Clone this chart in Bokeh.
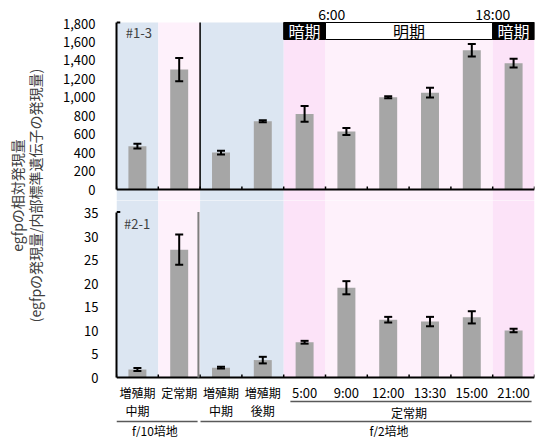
import math
from bokeh.plotting import figure
from bokeh.models import ColumnDataSource, Whisker, TeeHead, FixedTicker, NumeralTickFormatter
from bokeh.layouts import row, column
from bokeh.core.properties import value
from bokeh.embed import file_html
from bokeh.resources import INLINE

# ---------------- data ----------------
categories = ["増殖期\n中期", "定常期", "増殖期\n中期", "増殖期\n後期",
              "5:00", "9:00", "12:00", "13:30", "15:00", "21:00"]
top_values = [470, 1300, 400, 740, 820, 630, 1000, 1050, 1510, 1370]
top_errors = [25, 125, 20, 10, 85, 38, 10, 52, 67, 47]
bottom_values = [1.7, 27.2, 2.1, 3.7, 7.5, 19.1, 12.3, 11.9, 12.8, 10.0]
bottom_errors = [0.3, 3.2, 0.2, 0.7, 0.3, 1.4, 0.6, 1.0, 1.3, 0.35]
top_ticks = [0, 200, 400, 600, 800, 1000, 1200, 1400, 1600, 1800]
bottom_ticks = [0, 5, 10, 15, 20, 25, 30, 35]
top_panel_label = "#1-3"
bottom_panel_label = "#2-1"
period_labels = ["暗期", "明期", "暗期"]
period_edges = [4, 5, 9, 10]
clock_labels = ["6:00", "18:00"]
group_label = "定常期"
medium_labels = ["f/10培地", "f/2培地"]
ytitle1 = "egfpの相対発現量"
ytitle2 = "(egfpの発現量/内部標準遺伝子の発現量)"

FONT = "Noto Sans CJK JP"
BAR = "#a6a6a6"
BLUE = "#dce6f2"
PINK_L = "#fef1fb"
PINK_D = "#fce3f8"

n = len(categories)
xc = [i + 0.5 for i in range(n)]
edges = list(range(n + 1))

# background regions (slot index ranges)
bg_left = [0, 1, 2, 4, 5, 9]
bg_right = [1, 2, 4, 5, 9, 10]
bg_colors = [BLUE, PINK_L, BLUE, PINK_D, PINK_L, PINK_D]

# pixel scales
TOP_PX = 1800 / 166.0   # data units per px (top)
BOT_PX = 35 / 164.5     # data units per px (bottom)

def base_fig(h, y0, y1):
    p = figure(width=484, height=h, x_range=(0, n), y_range=(y0, y1),
               output_backend="svg", toolbar_location=None,
               x_axis_location=None, min_border_left=64, min_border_right=2,
               min_border_top=0, min_border_bottom=0, outline_line_color=None)
    p.grid.grid_line_color = None
    p.background_fill_color = "white"
    p.border_fill_color = "white"
    return p

def style_yaxis(p, ticks, top, fmt, standoff):
    ax = p.yaxis[0]
    ax.ticker = FixedTicker(ticks=ticks)
    if fmt:
        ax.formatter = NumeralTickFormatter(format="0,0")
    ax.bounds = (0, top)
    ax.axis_line_width = 2
    ax.axis_line_color = "black"
    ax.major_tick_line_color = None
    ax.minor_tick_line_color = None
    ax.major_label_text_font = FONT
    ax.major_label_text_font_size = "13px"
    ax.major_label_text_color = "black"
    ax.major_label_standoff = standoff

def add_errors(p, vals, errs):
    src = ColumnDataSource(dict(x=xc, upper=[v + e for v, e in zip(vals, errs)],
                                lower=[v - e for v, e in zip(vals, errs)]))
    p.add_layout(Whisker(source=src, base="x", upper="upper", lower="lower",
                         level="annotation", line_width=2, line_color="black",
                         upper_head=TeeHead(size=8, line_width=2, line_color="black"),
                         lower_head=TeeHead(size=8, line_width=2, line_color="black")))

# ---------------- top panel (canvas rows 0..200, baseline at 189) ----------------
t_y0 = -11 * TOP_PX
t_y1 = 189 * TOP_PX
t_top = 1800 + 1.0 * TOP_PX
top = base_fig(200, t_y0, t_y1)
top.quad(left=bg_left, right=bg_right, bottom=t_y0 - 20 * TOP_PX, top=t_top,
         fill_color=bg_colors, line_color=None)
top.vbar(x=xc, top=top_values, width=0.43, fill_color=BAR, line_color=None)
add_errors(top, top_values, top_errors)
# baseline, boundary ticks, separator, top cap
top.segment(x0=[0], y0=[0], x1=[n], y1=[0], line_color="black", line_width=2)
top.segment(x0=edges, y0=[0] * len(edges), x1=edges, y1=[3 * TOP_PX] * len(edges),
            line_color="black", line_width=1.5)
top.segment(x0=[2], y0=[0], x1=[2], y1=[t_top], line_color="black", line_width=1.5)
top.segment(x0=[0], y0=[t_top], x1=[0.09], y1=[t_top], line_color="black", line_width=2)
# light/dark boxes
box_bottom = 1800 - 16 * TOP_PX
top.quad(left=period_edges[:-1], right=period_edges[1:], bottom=box_bottom, top=t_top,
         fill_color=["black", "white", "black"], line_color="black", line_width=1)
top.text(x=[(a + b) / 2 for a, b in zip(period_edges[:-1], period_edges[1:])],
         y=[(box_bottom + t_top) / 2] * 3, text=period_labels,
         text_color=["white", "black", "white"], text_font=value(FONT),
         text_font_size="16px", text_align="center", text_baseline="middle")
top.text(x=[period_edges[1] + 0.15, period_edges[2]], y=[1800 + 10 * TOP_PX] * 2,
         text=clock_labels, text_color="black", text_font=value(FONT),
         text_font_size="14px", text_align="center", text_baseline="middle")
top.text(x=[0.22], y=[1800 - 9 * TOP_PX], text=[top_panel_label], text_color="#404040",
         text_font=value(FONT), text_font_size="13px", text_align="left",
         text_baseline="middle")
style_yaxis(top, top_ticks, t_top, True, 15)

# ---------------- bottom panel (canvas rows 200..437, baseline at 377) ----------------
b_y0 = -60 * BOT_PX
b_y1 = 177 * BOT_PX
bot = base_fig(237, b_y0, b_y1)
bot.quad(left=bg_left, right=bg_right, bottom=0, top=b_y1 + 20 * BOT_PX,
         fill_color=bg_colors, line_color=None)
bot.vbar(x=xc, top=bottom_values, width=0.43, fill_color=BAR, line_color=None)
add_errors(bot, bottom_values, bottom_errors)
b_top = 35 + 1.0 * BOT_PX
bot.segment(x0=[0], y0=[0], x1=[n], y1=[0], line_color="black", line_width=2)
bot.segment(x0=edges, y0=[0] * len(edges), x1=edges, y1=[3 * BOT_PX] * len(edges),
            line_color="black", line_width=1.5)
bot.segment(x0=[1.96], y0=[0], x1=[1.96], y1=[b_top], line_color="#7f7f7f", line_width=2)
bot.segment(x0=[0], y0=[b_top], x1=[0.09], y1=[b_top], line_color="black", line_width=2)
bot.text(x=[0.18], y=[35 - 10 * BOT_PX], text=[bottom_panel_label], text_color="#404040",
         text_font=value(FONT), text_font_size="13px", text_align="left",
         text_baseline="middle")
# category labels
bot.text(x=xc[:4], y=[-6 * BOT_PX] * 4, text=categories[:4], text_color="black",
         text_font=value(FONT), text_font_size="12px", text_align="center",
         text_baseline="top", text_line_height=1.1)
bot.text(x=xc[4:], y=[-15 * BOT_PX] * 6, text=categories[4:], text_color="black",
         text_font=value(FONT), text_font_size="13px", text_align="center",
         text_baseline="middle")
# group lines
bot.segment(x0=[4.16, 0, 2.01], y0=[-24 * BOT_PX, -44 * BOT_PX, -44 * BOT_PX],
            x1=[9.93, 1.94, 9.93], y1=[-24 * BOT_PX, -44 * BOT_PX, -44 * BOT_PX],
            line_color="#595959", line_width=1.5)
bot.text(x=[7.0], y=[-35 * BOT_PX], text=[group_label], text_color="black",
         text_font=value(FONT), text_font_size="12px", text_align="center",
         text_baseline="middle")
bot.text(x=[0.92, 6.52], y=[-52.5 * BOT_PX] * 2, text=medium_labels, text_color="black",
         text_font=value(FONT), text_font_size="12px", text_align="center",
         text_baseline="middle")
style_yaxis(bot, bottom_ticks, b_top, False, 12)

# ---------------- y title (canvas 0..52 x 0..437) ----------------
tf = figure(width=52, height=437, x_range=(0, 52), y_range=(0, 437),
            output_backend="svg", toolbar_location=None,
            x_axis_location=None, y_axis_location=None, min_border=0,
            outline_line_color=None)
tf.grid.grid_line_color = None
tf.text(x=[16, 34], y=[242, 242], text=[ytitle1, ytitle2], angle=math.pi / 2,
        text_color="#404040", text_font=value(FONT), text_font_size="14px",
        text_align="center", text_baseline="middle")

layout = row(tf, column(top, bot))
open("out.html", "w").write(file_html(layout, INLINE))
